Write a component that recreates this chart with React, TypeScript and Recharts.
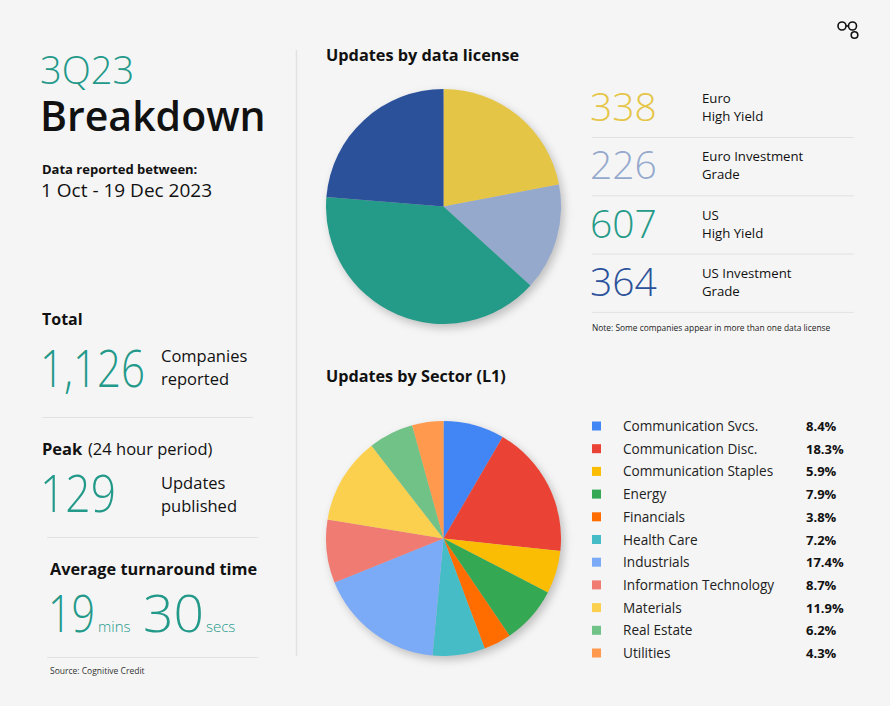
import React from "react";
import { PieChart, Pie, Cell } from "recharts";

const licenseLabels = [
  ["Euro", "High Yield"],
  ["Euro Investment", "Grade"],
  ["US", "High Yield"],
  ["US Investment", "Grade"],
];
const licenseValues = [338, 226, 607, 364];
const licenseColors = ["#E5C546", "#95A9CD", "#249A89", "#2B519A"];

const sectorNames = [
  "Communication Svcs.",
  "Communication Disc.",
  "Communication Staples",
  "Energy",
  "Financials",
  "Health Care",
  "Industrials",
  "Information Technology",
  "Materials",
  "Real Estate",
  "Utilities",
];
const sectorShares = [8.4, 18.3, 5.9, 7.9, 3.8, 7.2, 17.4, 8.7, 11.9, 6.2, 4.3];
const sectorColors = [
  "#4285F4",
  "#EA4335",
  "#FBBC04",
  "#34A853",
  "#FF6D01",
  "#46BDC6",
  "#7BAAF7",
  "#F07B72",
  "#FCD04F",
  "#71C287",
  "#FF994D",
];

const TEAL = "#23998A";
const FONT = "'Open Sans', 'Noto Sans', sans-serif";
const RULE = "#e2e2e2";

const licenseData = licenseValues.map((v, i) => ({ name: licenseLabels[i].join(" "), value: v }));
const sectorData = sectorShares.map((v, i) => ({ name: sectorNames[i], value: v }));

function PieBlock({ data, colors, top }: { data: any[]; colors: string[]; top: number }) {
  return (
    <div
      style={{
        position: "absolute",
        left: 313,
        top,
        width: 261,
        height: 261,
        filter: "drop-shadow(3px 4px 4px rgba(0,0,0,0.22))",
      }}
    >
      <PieChart width={261} height={261} margin={{ top: 0, right: 0, bottom: 0, left: 0 }}>
        <Pie
          data={data}
          dataKey="value"
          cx={130.5}
          cy={130.5}
          outerRadius={117.5}
          startAngle={90}
          endAngle={-270}
          stroke="none"
          isAnimationActive={false}
        >
          {data.map((_, i) => (
            <Cell key={i} fill={colors[i]} />
          ))}
        </Pie>
      </PieChart>
    </div>
  );
}

// big light teal figures, squeezed to the reference width
function Big({ x, y, w, children }: { x: number; y: number; w: number; children: string }) {
  return (
    <text x={x} y={y} fontSize={52} fill={TEAL} fontWeight={300} textLength={w} lengthAdjust="spacingAndGlyphs">
      {children}
    </text>
  );
}

export default function App() {
  return (
    <div
      style={{
        position: "absolute",
        left: 0,
        top: 0,
        width: 890,
        height: 706,
        background: "#f5f5f5",
        fontFamily: FONT,
        overflow: "hidden",
      }}
    >
      <svg width={890} height={706} style={{ position: "absolute", left: 0, top: 0 }} fontFamily={FONT}>
        {/* logo */}
        <g fill="none" stroke="#111" strokeWidth={1.6}>
          <circle cx={842} cy={26} r={4} />
          <circle cx={852.5} cy={26} r={4} />
          <circle cx={854.5} cy={35} r={3.3} />
          <line x1={846} y1={26} x2={848.5} y2={26} />
        </g>

        {/* left column */}
        <text x={40} y={84} fontSize={38} fill={TEAL} fontWeight={300}>3Q23</text>
        <text x={40} y={131} fontSize={41} fill="#111" fontWeight={600}>Breakdown</text>
        <text x={42} y={174} fontSize={13} fill="#111" fontWeight={700}>Data reported between:</text>
        <text x={41} y={197} fontSize={19} fill="#111">1 Oct - 19 Dec 2023</text>

        <text x={42} y={325} fontSize={16} fill="#111" fontWeight={700}>Total</text>
        <Big x={40} y={387} w={105}>1,126</Big>
        <text x={161} y={362} fontSize={16.5} fill="#111">Companies</text>
        <text x={161} y={385} fontSize={16.5} fill="#111">reported</text>
        <line x1={42} x2={253} y1={417.5} y2={417.5} stroke={RULE} />

        <text x={42} y={455} fontSize={16.5} fill="#111" fontWeight={700}>Peak</text>
        <text x={88} y={455} fontSize={16.5} fill="#111">(24 hour period)</text>
        <Big x={40} y={512} w={76}>129</Big>
        <text x={161} y={489} fontSize={16.5} fill="#111">Updates</text>
        <text x={161} y={512} fontSize={16.5} fill="#111">published</text>
        <line x1={47} x2={258} y1={537.5} y2={537.5} stroke={RULE} />

        <text x={50} y={575} fontSize={16.3} fill="#111" fontWeight={700}>Average turnaround time</text>
        <Big x={48} y={632} w={47}>19</Big>
        <text x={98} y={632} fontSize={15} fill={TEAL} fontWeight={300}>mins</text>
        <Big x={143} y={632} w={61}>30</Big>
        <text x={206} y={632} fontSize={15} fill={TEAL} fontWeight={300}>secs</text>
        <line x1={47} x2={258} y1={657.5} y2={657.5} stroke={RULE} />
        <text x={50} y={674} fontSize={8.5} fill="#333">Source: Cognitive Credit</text>

        <line x1={296.5} x2={296.5} y1={50} y2={656} stroke={RULE} strokeWidth={1.5} />

        {/* license panel */}
        <text x={326} y={61} fontSize={16.3} fill="#111" fontWeight={700}>Updates by data license</text>
        {licenseValues.map((v, i) => {
          const base = 121 + i * 58.3;
          return (
            <g key={i}>
              <text x={590} y={base} fontSize={39} fill={licenseColors[i]} fontWeight={300}>{v}</text>
              <text x={702} y={base - 18} fontSize={13.2} fill="#111">{licenseLabels[i][0]}</text>
              <text x={702} y={base} fontSize={13.2} fill="#111">{licenseLabels[i][1]}</text>
              <line x1={592} x2={854} y1={base + 16.5} y2={base + 16.5} stroke={RULE} />
            </g>
          );
        })}
        <text x={592} y={331} fontSize={8.4} fill="#222">Note: Some companies appear in more than one data license</text>

        {/* sector panel */}
        <text x={326} y={382} fontSize={16.2} fill="#111" fontWeight={700}>Updates by Sector (L1)</text>
        {sectorNames.map((n, i) => {
          const cy = 426 + i * 22.7;
          return (
            <g key={n}>
              <rect x={592} y={cy - 4.5} width={9} height={9} fill={sectorColors[i]} />
              <text x={623} y={cy + 5} fontSize={13.6} fill="#222">{n}</text>
              <text x={806} y={cy + 5} fontSize={13} fill="#111" fontWeight={700}>{sectorShares[i].toFixed(1)}%</text>
            </g>
          );
        })}
      </svg>

      <PieBlock data={licenseData} colors={licenseColors} top={76} />
      <PieBlock data={sectorData} colors={sectorColors} top={408} />
    </div>
  );
}
